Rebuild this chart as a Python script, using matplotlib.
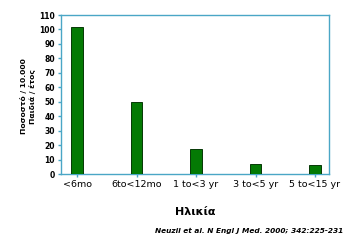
import matplotlib
matplotlib.use("Agg")
import matplotlib.pyplot as plt

# incidence per 10,000 children per year by age group
categories = ["<6mo", "6to<12mo", "1 to<3 yr", "3 to<5 yr", "5 to<15 yr"]
rates = [102, 50, 17, 7, 6]
yticks = list(range(0, 111, 10))

SPINE = "#4aa6c6"
GREEN = "#047a04"

fig = plt.figure(figsize=(3.5, 2.43), dpi=100)
ax = fig.add_axes([61 / 350, 1 - 174 / 243, 268 / 350, 159 / 243])

x = range(len(categories))
ax.bar(x, rates, width=0.19, color=GREEN, edgecolor="#063806", linewidth=0.7, zorder=3)

ax.set_xlim(-0.27, 4.235)
ax.set_ylim(0, 110)
ax.set_yticks(yticks)
ax.set_yticklabels([str(v) for v in yticks], fontsize=5.5, fontweight="bold")
ax.set_xticks(list(x))
ax.set_xticklabels(categories, fontsize=6.8)

for s in ax.spines.values():
    s.set_color(SPINE)
    s.set_linewidth(1.0)
ax.tick_params(axis="both", colors=SPINE, length=2.5, width=1.0, pad=2)
for lbl in ax.get_xticklabels() + ax.get_yticklabels():
    lbl.set_color("black")

cond = ["DejaVu Sans Condensed", "DejaVu Sans"]
fig.text(24 / 350, 1 - 96 / 243, "Ποσοστό / 10.000", rotation=90, ha="center", va="center",
         fontsize=5.4, fontweight="bold", family=cond)
fig.text(32 / 350, 1 - 97 / 243, "Παιδιά / έτος", rotation=90, ha="center", va="center",
         fontsize=5.4, fontweight="bold", family=cond)

fig.text(195 / 350, 1 - 212 / 243, "Ηλικία", ha="center", va="center", fontsize=8,
         fontweight="bold")
fig.text(343 / 350, 1 - 231 / 243, "Neuzil et al. N Engl J Med. 2000; 342:225-231",
         ha="right", va="center", fontsize=5.3, fontweight="bold", style="italic")

fig.savefig("out.png", dpi=100)
